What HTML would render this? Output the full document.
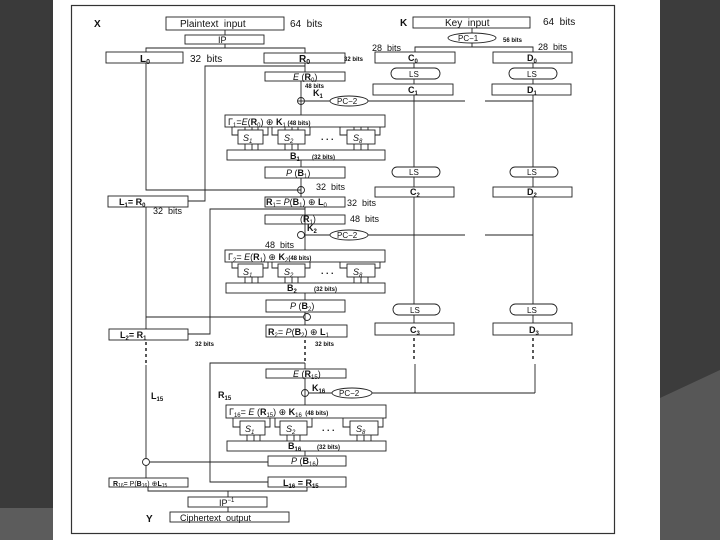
<!DOCTYPE html>
<html><head><meta charset="utf-8"><style>
html,body{margin:0;padding:0;width:720px;height:540px;overflow:hidden;background:#fff}
svg{display:block}
text{font-family:"Liberation Sans",sans-serif;fill:#111}
.b{font-weight:bold}
</style></head><body>
<svg width="720" height="540" viewBox="0 0 720 540">
<rect x="0" y="0" width="720" height="540" fill="#fff"/>
<rect x="0" y="0" width="53" height="540" fill="#3a3a3a"/>
<rect x="0" y="508" width="53" height="32" fill="#5c5c5c"/>
<rect x="660" y="0" width="60" height="540" fill="#3c3c3c"/>
<polygon points="660,398 720,370 720,540 660,540" fill="#575757"/>
<rect x="71.5" y="5.5" width="543" height="528" fill="none" stroke="#333" stroke-width="1.2"/>
<g stroke="#222" stroke-width="0.9" fill="none">
<!-- top -->
<rect x="166" y="17" width="118" height="13"/>
<rect x="185" y="35" width="79" height="9"/>
<line x1="225" y1="30" x2="225" y2="35"/>
<polyline points="146,52 146,48 305,48 305,53"/>
<line x1="225" y1="44" x2="225" y2="48"/>
<rect x="106" y="52" width="77" height="11"/>
<rect x="264" y="53" width="81" height="10"/>
<line x1="305" y1="63" x2="305" y2="72"/>
<polyline points="305,66 205,66 205,201 188,201"/>
<polyline points="146,63 146,190 301,190"/>
<rect x="265" y="72" width="80" height="9"/>
<line x1="301" y1="81" x2="301" y2="115"/>
<circle cx="301" cy="101" r="3.5"/>
<line x1="297.5" y1="101" x2="304.5" y2="101"/>
<line x1="305" y1="101" x2="330" y2="101"/>
<ellipse cx="349" cy="101" rx="19" ry="5"/>
<line x1="368" y1="101" x2="465" y2="101"/>
<line x1="485" y1="101" x2="533" y2="101"/>
<!-- round 1 F -->
<rect x="225" y="115" width="160" height="12"/>
<rect x="238" y="130" width="25" height="14"/><rect x="278" y="130" width="27" height="14"/><rect x="347" y="130" width="28" height="14"/>
<path d="M232,127v8h6 M245,127v3 M252,127v3 M258,127v3 M268,127v8h-5 M272,127v8h6 M285,127v3 M292,127v3 M298,127v3 M310,127v8h-5 M340,127v8h7 M354,127v3 M361,127v3 M368,127v3 M380,127v8h-5"/>
<path d="M245,144v6 M252,144v6 M258,144v6 M285,144v6 M292,144v6 M298,144v6 M354,144v6 M361,144v6 M368,144v6"/>
<rect x="227" y="150" width="158" height="10"/>
<line x1="301" y1="160" x2="301" y2="167"/>
<rect x="265" y="167" width="80" height="11"/>
<line x1="301" y1="178" x2="301" y2="197"/>
<circle cx="301" cy="190" r="3.5"/>
<rect x="108" y="196" width="80" height="11"/>
<rect x="265" y="197" width="80" height="10"/>
<line x1="146" y1="207" x2="146" y2="329"/>
<polyline points="305,209 210,209 210,334 188,334"/>
<line x1="305" y1="207" x2="305" y2="250"/>
<rect x="265" y="215" width="80" height="9"/>
<circle cx="301" cy="235" r="3.5"/>
<line x1="305" y1="235" x2="330" y2="235"/>
<ellipse cx="349" cy="235" rx="19" ry="5"/>
<line x1="368" y1="235" x2="465" y2="235"/>
<line x1="485" y1="235" x2="533" y2="235"/>
<!-- round 2 F -->
<rect x="225" y="250" width="160" height="12"/>
<rect x="238" y="264" width="25" height="13"/><rect x="278" y="264" width="27" height="13"/><rect x="347" y="264" width="28" height="13"/>
<path d="M232,262v6h6 M268,262v6h-5 M272,262v6h6 M310,262v6h-5 M340,262v6h7 M380,262v6h-5 M245,277v6 M252,277v6 M258,277v6 M285,277v6 M292,277v6 M298,277v6 M354,277v6 M361,277v6 M368,277v6"/>
<rect x="226" y="283" width="159" height="10"/>
<line x1="305" y1="293" x2="305" y2="300"/>
<rect x="266" y="300" width="79" height="12"/>
<line x1="305" y1="312" x2="305" y2="325"/>
<circle cx="307" cy="317" r="3.5"/>
<line x1="146" y1="317" x2="303" y2="317"/>
<rect x="109" y="329" width="79" height="11"/>
<rect x="266" y="325" width="81" height="12"/>
<path d="M146,342v3 M146,348v3 M146,354v3 M146,360v3 M305,340v3 M305,346v3 M305,352v3 M305,358v3" stroke-width="1.5"/>
<line x1="146" y1="365" x2="146" y2="458"/>
<line x1="305" y1="363" x2="305" y2="369"/>
<polyline points="305,363 210,363 210,482 268,482"/>
<rect x="266" y="369" width="80" height="9"/>
<line x1="305" y1="378" x2="305" y2="405"/>
<circle cx="305" cy="393" r="3.5"/>
<line x1="309" y1="393" x2="332" y2="393"/>
<ellipse cx="352" cy="393" rx="20" ry="5"/>
<line x1="372" y1="393" x2="535" y2="393"/>
<!-- round 16 F -->
<rect x="226" y="405" width="160" height="13"/>
<rect x="240" y="421" width="25" height="14"/><rect x="280" y="421" width="27" height="14"/><rect x="350" y="421" width="28" height="14"/>
<path d="M233,418v9h7 M270,418v9h-5 M275,418v9h5 M312,418v9h-5 M343,418v9h7 M383,418v9h-5 M247,435v6 M254,435v6 M260,435v6 M287,435v6 M294,435v6 M300,435v6 M357,435v6 M364,435v6 M371,435v6"/>
<rect x="227" y="441" width="159" height="10"/>
<line x1="305" y1="451" x2="305" y2="456"/>
<rect x="268" y="456" width="78" height="10"/>
<circle cx="146" cy="462" r="3.5"/>
<line x1="150" y1="462" x2="268" y2="462"/>
<line x1="146" y1="466" x2="146" y2="478"/>
<rect x="109" y="478" width="79" height="9"/>
<rect x="268" y="477" width="78" height="10"/>
<polyline points="148,487 148,491 307,491 307,487"/>
<line x1="228" y1="491" x2="228" y2="497"/>
<rect x="188" y="497" width="79" height="10"/>
<line x1="228" y1="507" x2="228" y2="512"/>
<rect x="170" y="512" width="119" height="10"/>
<!-- key schedule -->
<rect x="413" y="17" width="117" height="11"/>
<line x1="472" y1="28" x2="472" y2="33"/>
<ellipse cx="472" cy="38" rx="24" ry="5"/>
<polyline points="415,52 415,47 533,47 533,52"/>
<line x1="472" y1="43" x2="472" y2="47"/>
<rect x="375" y="52" width="80" height="11"/>
<rect x="493" y="52" width="79" height="11"/>
<line x1="414" y1="63" x2="414" y2="84"/><line x1="533" y1="63" x2="533" y2="84"/>
<rect x="391" y="68" width="49" height="11" rx="5.5" fill="#fff"/>
<rect x="509" y="68" width="48" height="11" rx="5.5" fill="#fff"/>
<rect x="373" y="84" width="80" height="11"/>
<rect x="492" y="84" width="79" height="11"/>
<line x1="414" y1="95" x2="414" y2="187"/><line x1="533" y1="95" x2="533" y2="187"/>
<rect x="392" y="167" width="48" height="10" rx="5" fill="#fff"/>
<rect x="510" y="167" width="48" height="10" rx="5" fill="#fff"/>
<rect x="375" y="187" width="79" height="10"/>
<rect x="493" y="187" width="79" height="10"/>
<line x1="414" y1="197" x2="414" y2="323"/><line x1="533" y1="197" x2="533" y2="323"/>
<rect x="393" y="304" width="47" height="11" rx="5.5" fill="#fff"/>
<rect x="510" y="304" width="47" height="11" rx="5.5" fill="#fff"/>
<rect x="375" y="323" width="79" height="12"/>
<rect x="493" y="323" width="79" height="12"/>
<path d="M414,338v3 M414,344v3 M414,350v3 M414,356v3 M533,338v3 M533,344v3 M533,350v3 M533,356v3" stroke-width="1.5"/>
<line x1="415" y1="364" x2="415" y2="393"/><line x1="535" y1="364" x2="535" y2="393"/>
</g>
<g font-size="10">
<text x="94" y="27" class="b">X</text>
<text x="180" y="27">Plaintext&#160;&#160;input</text>
<text x="290" y="27">64&#160;&#160;bits</text>
<text x="218" y="43" font-size="9">IP</text>
<text x="140" y="62" class="b">L<tspan font-size="7" dy="2">0</tspan></text>
<text x="190" y="62">32&#160;&#160;bits</text>
<text x="299" y="62" class="b">R<tspan font-size="7" dy="2">0</tspan></text>
<text x="344" y="61" font-size="6" class="b">32 bits</text>
<text x="293" y="80" font-size="9"><tspan font-style="italic">E</tspan> (<tspan class="b">R</tspan><tspan font-size="6" dy="2">0</tspan><tspan dy="-2">)</tspan></text>
<text x="305" y="88" font-size="6" class="b">48 bits</text>
<text x="313" y="96" font-size="9" class="b">K<tspan font-size="6" dy="2">1</tspan></text>
<text x="337" y="104" font-size="8">PC−2</text>
<text x="228" y="125" font-size="9">Γ<tspan font-size="6" dy="2">1</tspan><tspan dy="-2">=<tspan font-style="italic">E</tspan>(<tspan class="b">R</tspan><tspan font-size="6" dy="2">0</tspan><tspan dy="-2">) ⊕ </tspan><tspan class="b">K</tspan><tspan font-size="6" dy="2">1</tspan><tspan dy="-2" font-size="6" class="b"> (48 bits)</tspan></tspan></text>
<text x="243" y="141" font-size="9" font-style="italic">S<tspan font-size="6" dy="2">1</tspan></text>
<text x="284" y="141" font-size="9" font-style="italic">S<tspan font-size="6" dy="2">2</tspan></text>
<text x="321" y="140" font-size="9" class="b">. . .</text>
<text x="353" y="141" font-size="9" font-style="italic">S<tspan font-size="6" dy="2">8</tspan></text>
<text x="290" y="159" font-size="9" class="b">B<tspan font-size="6" dy="2">1</tspan></text>
<text x="312" y="159" font-size="6" class="b">(32 bits)</text>
<text x="286" y="176" font-size="9"><tspan font-style="italic">P</tspan> (<tspan class="b">B</tspan><tspan font-size="6" dy="2">1</tspan><tspan dy="-2">)</tspan></text>
<text x="316" y="190" font-size="9">32&#160;&#160;bits</text>
<text x="119" y="205" font-size="9" class="b">L<tspan font-size="6" dy="2">1</tspan><tspan dy="-2">= R</tspan><tspan font-size="6" dy="2">0</tspan></text>
<text x="153" y="214" font-size="9">32&#160;&#160;bits</text>
<text x="266" y="205" font-size="9"><tspan class="b">R</tspan><tspan font-size="6" dy="2">1</tspan><tspan dy="-2">= <tspan font-style="italic">P</tspan>(<tspan class="b">B</tspan></tspan><tspan font-size="6" dy="2">1</tspan><tspan dy="-2">) ⊕ </tspan><tspan class="b">L</tspan><tspan font-size="6" dy="2">0</tspan></text>
<text x="347" y="206" font-size="9">32&#160;&#160;bits</text>
<text x="300" y="222" font-size="9">(<tspan class="b">R</tspan><tspan font-size="6" dy="2">1</tspan><tspan dy="-2">)</tspan></text>
<text x="350" y="222" font-size="9">48&#160;&#160;bits</text>
<text x="307" y="231" font-size="9" class="b">K<tspan font-size="6" dy="2">2</tspan></text>
<text x="337" y="238" font-size="8">PC−2</text>
<text x="265" y="248" font-size="9">48&#160;&#160;bits</text>
<text x="228" y="260" font-size="9">Γ<tspan font-size="6" dy="2">2</tspan><tspan dy="-2">= <tspan font-style="italic">E</tspan>(<tspan class="b">R</tspan><tspan font-size="6" dy="2">1</tspan><tspan dy="-2">) ⊕ </tspan><tspan class="b">K</tspan><tspan font-size="6" dy="2">2</tspan><tspan dy="-2" font-size="6" class="b">(48 bits)</tspan></tspan></text>
<text x="243" y="275" font-size="9" font-style="italic">S<tspan font-size="6" dy="2">1</tspan></text>
<text x="284" y="275" font-size="9" font-style="italic">S<tspan font-size="6" dy="2">2</tspan></text>
<text x="321" y="274" font-size="9" class="b">. . .</text>
<text x="353" y="275" font-size="9" font-style="italic">S<tspan font-size="6" dy="2">8</tspan></text>
<text x="287" y="291" font-size="9" class="b">B<tspan font-size="6" dy="2">2</tspan></text>
<text x="314" y="291" font-size="6" class="b">(32 bits)</text>
<text x="290" y="309" font-size="9"><tspan font-style="italic">P</tspan> (<tspan class="b">B</tspan><tspan font-size="6" dy="2">2</tspan><tspan dy="-2">)</tspan></text>
<text x="120" y="338" font-size="9" class="b">L<tspan font-size="6" dy="2">2</tspan><tspan dy="-2">= R</tspan><tspan font-size="6" dy="2">1</tspan></text>
<text x="195" y="346" font-size="6" class="b">32 bits</text>
<text x="268" y="335" font-size="9"><tspan class="b">R</tspan><tspan font-size="6" dy="2">2</tspan><tspan dy="-2">= <tspan font-style="italic">P</tspan>(<tspan class="b">B</tspan></tspan><tspan font-size="6" dy="2">2</tspan><tspan dy="-2">) ⊕ </tspan><tspan class="b">L</tspan><tspan font-size="6" dy="2">1</tspan></text>
<text x="315" y="346" font-size="6" class="b">32 bits</text>
<text x="293" y="377" font-size="9"><tspan font-style="italic">E</tspan> (<tspan class="b">R</tspan><tspan font-size="6" dy="2">15</tspan><tspan dy="-2">)</tspan></text>
<text x="151" y="399" font-size="9" class="b">L<tspan font-size="6" dy="2">15</tspan></text>
<text x="218" y="398" font-size="9" class="b">R<tspan font-size="6" dy="2">15</tspan></text>
<text x="312" y="391" font-size="9" class="b">K<tspan font-size="6" dy="2">16</tspan></text>
<text x="339" y="396" font-size="8">PC−2</text>
<text x="229" y="415" font-size="9">Γ<tspan font-size="6" dy="2">16</tspan><tspan dy="-2">=&#160;<tspan font-style="italic">E</tspan> (<tspan class="b">R</tspan></tspan><tspan font-size="6" dy="2">15</tspan><tspan dy="-2">) ⊕ </tspan><tspan class="b">K</tspan><tspan font-size="6" dy="2">16</tspan><tspan dy="-2" font-size="6" class="b">&#160;&#160;(48 bits)</tspan></text>
<text x="245" y="432" font-size="9" font-style="italic">S<tspan font-size="6" dy="2">1</tspan></text>
<text x="286" y="432" font-size="9" font-style="italic">S<tspan font-size="6" dy="2">2</tspan></text>
<text x="322" y="431" font-size="9" class="b">. . .</text>
<text x="356" y="432" font-size="9" font-style="italic">S<tspan font-size="6" dy="2">8</tspan></text>
<text x="288" y="449" font-size="9" class="b">B<tspan font-size="6" dy="2">16</tspan></text>
<text x="317" y="449" font-size="6" class="b">(32 bits)</text>
<text x="291" y="464" font-size="9"><tspan font-style="italic">P</tspan> (<tspan class="b">B</tspan><tspan font-size="6" dy="2">16</tspan><tspan dy="-2">)</tspan></text>
<text x="113" y="486" font-size="7"><tspan class="b">R</tspan><tspan font-size="5" dy="1">16</tspan><tspan dy="-1">= P(</tspan><tspan class="b">B</tspan><tspan font-size="5" dy="1">16</tspan><tspan dy="-1">) ⊕</tspan><tspan class="b">L</tspan><tspan font-size="5" dy="1">15</tspan></text>
<text x="283" y="486" font-size="9" class="b">L<tspan font-size="6" dy="2">16</tspan><tspan dy="-2"> = R</tspan><tspan font-size="6" dy="2">15</tspan></text>
<text x="219" y="506" font-size="9">IP<tspan font-size="6" dy="-4">−1</tspan></text>
<text x="146" y="522" class="b">Y</text>
<text x="180" y="521" font-size="9">Ciphertext&#160;&#160;output</text>
<text x="400" y="26" class="b">K</text>
<text x="445" y="26">Key&#160;&#160;input</text>
<text x="543" y="25">64&#160;&#160;bits</text>
<text x="458" y="41" font-size="8">PC−1</text>
<text x="503" y="42" font-size="6" class="b">56 bits</text>
<text x="372" y="51" font-size="9">28&#160;&#160;bits</text>
<text x="538" y="50" font-size="9">28&#160;&#160;bits</text>
<text x="408" y="61" font-size="9" class="b">C<tspan font-size="6" dy="2">0</tspan></text>
<text x="527" y="61" font-size="9" class="b">D<tspan font-size="6" dy="2">0</tspan></text>
<text x="409" y="77" font-size="8">LS</text><text x="527" y="77" font-size="8">LS</text>
<text x="408" y="93" font-size="9" class="b">C<tspan font-size="6" dy="2">1</tspan></text>
<text x="527" y="93" font-size="9" class="b">D<tspan font-size="6" dy="2">1</tspan></text>
<text x="409" y="175" font-size="8">LS</text><text x="527" y="175" font-size="8">LS</text>
<text x="410" y="195" font-size="9" class="b">C<tspan font-size="6" dy="2">2</tspan></text>
<text x="527" y="195" font-size="9" class="b">D<tspan font-size="6" dy="2">2</tspan></text>
<text x="410" y="313" font-size="8">LS</text><text x="527" y="313" font-size="8">LS</text>
<text x="410" y="333" font-size="9" class="b">C<tspan font-size="6" dy="2">3</tspan></text>
<text x="529" y="333" font-size="9" class="b">D<tspan font-size="6" dy="2">3</tspan></text>
</g>
</svg>
</body></html>
